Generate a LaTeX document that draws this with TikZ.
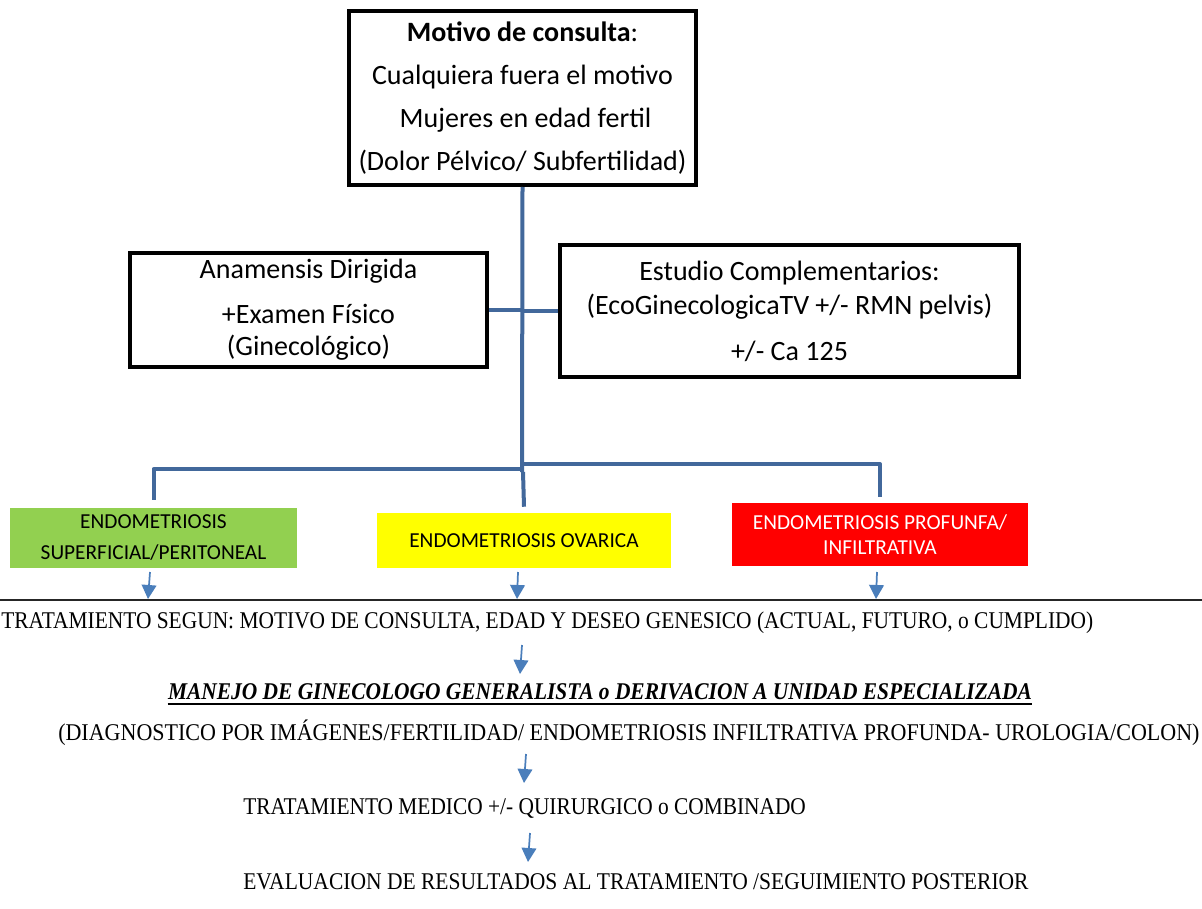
\documentclass[tikz,border=0pt]{standalone}
\usepackage{fontspec}
\usepackage{graphicx}
\setmainfont{Liberation Serif}
\newfontfamily\calib{Carlito}
\usetikzlibrary{arrows.meta}
\definecolor{connblue}{RGB}{66,104,155}
\definecolor{arrblue}{RGB}{74,126,187}
\definecolor{egreen}{RGB}{146,208,80}
\definecolor{eyellow}{RGB}{255,255,0}
\definecolor{ered}{RGB}{255,0,0}
\newcommand{\fitto}[2]{\resizebox{#1}{\height}{#2}}
\tikzset{
  bbox/.style={draw=black, line width=3pt, fill=white, align=center, inner sep=0pt},
  cbox/.style={align=center, inner sep=0pt, font=\calib\fontsize{16}{23.25}\selectfont},
  conn/.style={draw=connblue, line width=3pt, line join=round},
  barrow/.style={draw=arrblue, line width=1.3pt, -{Triangle[width=11pt,length=10.5pt]}},
  ttext/.style={inner sep=0pt, font=\fontsize{18}{20}\selectfont}
}
\begin{document}
\begin{tikzpicture}[x=0.75pt, y=-0.75pt]
\path[use as bounding box, fill=white] (0,0) rectangle (1202,909);

% boxes
\node[bbox, minimum width=260.25pt, minimum height=130.5pt,
      font=\calib\fontsize{21}{32.25}\selectfont] (top) at (522.5,98)
  {\textbf{Motivo de consulta}:\\Cualquiera fuera el motivo\\\hspace*{4.5pt}Mujeres en edad fertil\\(Dolor Pélvico/ Subfertilidad)};
\node[bbox, minimum width=267.75pt, minimum height=85.5pt,
      font=\calib\fontsize{21}{24}\selectfont] (anam) at (308.5,310)
  {Anamensis Dirigida\\[9.75pt]+Examen Físico\\(Ginecológico)};
\node[bbox, minimum width=344.25pt, minimum height=99pt,
      font=\calib\fontsize{21}{25.5}\selectfont] (estud) at (789.5,311)
  {Estudio Complementarios:\\(EcoGinecologicaTV +/- RMN pelvis)\\[9pt]+/- Ca 125};

\node[cbox, fill=egreen, minimum width=215.25pt, minimum height=45pt] (green) at (153.5,538)
  {ENDOMETRIOSIS\\SUPERFICIAL/PERITONEAL};
\node[cbox, fill=eyellow, minimum width=220.5pt, minimum height=41.25pt] (yellow) at (524,540.5)
  {ENDOMETRIOSIS OVARICA};
\node[cbox, fill=ered, text=white, minimum width=222pt, minimum height=47.25pt,
      font=\calib\fontsize{16}{18.75}\selectfont] (red) at (880,534.5)
  {ENDOMETRIOSIS PROFUNFA/\\INFILTRATIVA};

% connectors
\coordinate (jm) at (522,472);
\coordinate (jl) at (522,469);
\coordinate (jr) at (524,464);
\coordinate (jd) at (523,472);
\draw[conn] (top.south) -- (jm);
\draw[conn] (anam.east) -- (anam.east -| top.south);
\draw[conn] (estud.west) -- (estud.west -| top.south);
\draw[conn] (jl) -| ([yshift=6pt]green.north);
\draw[conn] (jr) -| ([yshift=4.5pt]red.north);
\draw[conn] (jd) -- ([yshift=4.5pt]yellow.north);

% rule
\coordinate (rl) at (0,600);
\coordinate (rr) at (1202,600);
\draw[line width=1.2pt, draw=black!85] (rl) -- (rr);

% small arrows to the rule
\coordinate (ga) at (150,572); \coordinate (gb) at (148,599);
\coordinate (ya) at (518,572); \coordinate (yb) at (517,599);
\coordinate (ra) at (877,572); \coordinate (rb) at (876,599);
\draw[barrow] (ga) -- (gb);
\draw[barrow] (ya) -- (yb);
\draw[barrow] (ra) -- (rb);

% bottom texts
\node[ttext, anchor=west] (t1) at (1,623)
  {\fitto{819pt}{TRATAMIENTO SEGUN: MOTIVO DE CONSULTA, EDAD Y DESEO GENESICO (ACTUAL, FUTURO, o CUMPLIDO)}};
\node[ttext] (t2) at (600,692)
  {\fitto{648pt}{\textbf{\textit{MANEJO DE GINECOLOGO GENERALISTA o DERIVACION A UNIDAD ESPECIALIZADA}}}};
\draw[line width=1.5pt] ([yshift=-3pt]t2.base west) -- ([yshift=-3pt]t2.base east);
\node[ttext, anchor=west] (t3) at (58,733)
  {\fitto{856pt}{(DIAGNOSTICO POR IMÁGENES/FERTILIDAD/ ENDOMETRIOSIS INFILTRATIVA PROFUNDA- UROLOGIA/COLON)}};
\node[ttext, anchor=west] (t4) at (243,808)
  {\fitto{422pt}{TRATAMIENTO MEDICO +/- QUIRURGICO o COMBINADO}};
\node[ttext, anchor=west] (t5) at (243,882)
  {\fitto{589pt}{EVALUACION DE RESULTADOS AL TRATAMIENTO /SEGUIMIENTO POSTERIOR}};

\coordinate (a1s) at (522,645); \coordinate (a1e) at (520,674);
\coordinate (a2s) at (526,754); \coordinate (a2e) at (524,783);
\coordinate (a3s) at (530,833); \coordinate (a3e) at (528,862);
\draw[barrow] (a1s) -- (a1e);
\draw[barrow] (a2s) -- (a2e);
\draw[barrow] (a3s) -- (a3e);
\end{tikzpicture}
\end{document}
